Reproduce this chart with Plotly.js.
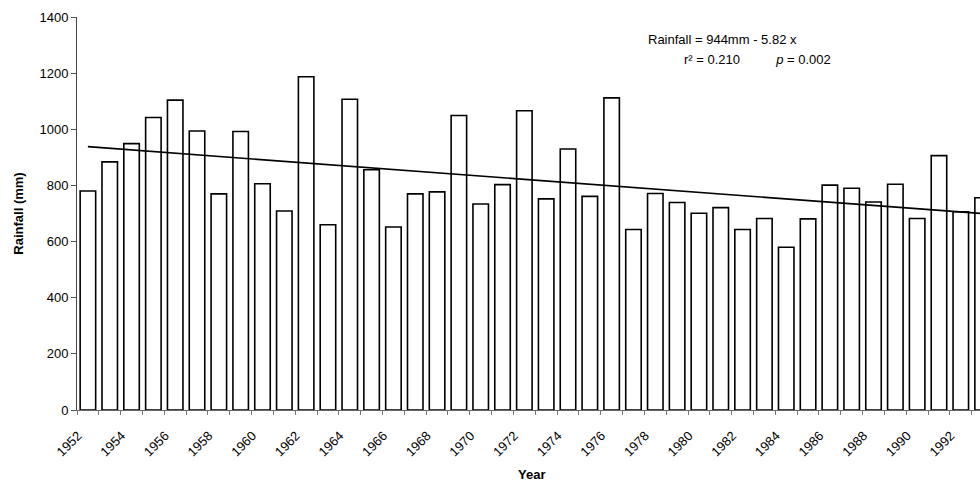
<!DOCTYPE html>
<html>
<head>
<meta charset="utf-8">
<script src="https://cdn.plot.ly/plotly-3.0.1.min.js"></script>
<style>html,body{margin:0;padding:0;background:#fff;}#chart{width:980px;height:483px;}</style>
</head>
<body>
<div id="chart"></div>
<script>
// Data
const years = [1952,1953,1954,1955,1956,1957,1958,1959,1960,1961,1962,1963,1964,1965,1966,1967,1968,1969,1970,1971,1972,1973,1974,1975,1976,1977,1978,1979,1980,1981,1982,1983,1984,1985,1986,1987,1988,1989,1990,1991,1992,1993];
const rainfall = [780,884,949,1042,1104,994,770,992,806,709,1187,660,1107,856,652,770,777,1049,734,803,1066,752,930,761,1112,643,771,739,701,721,643,682,580,681,801,790,741,804,682,906,706,756];
const tickYears = [1952,1954,1956,1958,1960,1962,1964,1966,1968,1970,1972,1974,1976,1978,1980,1982,1984,1986,1988,1990,1992];
const tickLabels = tickYears.map(String);
const boundaryTicks = years.map(y => y - 0.5);
const yTicks = [0,200,400,600,800,1000,1200,1400];
// Regression stated on the chart: Rainfall = 944mm - 5.82 x  (x = year index starting at 1)
const intercept = 944, slope = -5.82;
const trend = years.map((y, i) => intercept + slope * (i + 1));

const FONT = 'Liberation Sans, Arial, sans-serif';

const traces = [
  {
    type: 'bar', x: years, y: rainfall, width: 0.71,
    marker: {color: '#ffffff', line: {color: '#000000', width: 1.6}},
    hoverinfo: 'x+y', showlegend: false
  },
  {
    type: 'scatter', mode: 'lines', x: years, y: trend,
    line: {color: '#000000', width: 1.6}, showlegend: false
  },
  {
    type: 'scatter', x: [1960], y: [0], xaxis: 'x2', mode: 'markers',
    marker: {opacity: 0}, hoverinfo: 'skip', showlegend: false
  }
];

const layout = {
  width: 980, height: 483,
  margin: {l: 77, r: 0, t: 17, b: 73},
  paper_bgcolor: '#ffffff', plot_bgcolor: '#ffffff',
  font: {family: FONT, size: 12, color: '#000'},
  bargap: 0,
  xaxis: {
    type: 'linear', range: [1951.5, 1992.88], fixedrange: true,
    tickmode: 'array', tickvals: tickYears, ticktext: tickLabels,
    tickangle: -45, ticks: '', showgrid: false, zeroline: false,
    ticklabelstandoff: 12, ticklabelshift: -10,
    showline: true, linecolor: '#666', linewidth: 1,
    tickfont: {family: FONT, size: 13, color: '#000'}
  },
  xaxis2: {
    overlaying: 'x', matches: 'x', anchor: 'y', side: 'bottom',
    tickmode: 'array', tickvals: boundaryTicks, showticklabels: false,
    ticks: 'outside', ticklen: 4, tickcolor: '#777', tickwidth: 1,
    showgrid: false, zeroline: false, showline: false
  },
  yaxis: {
    range: [0, 1400], fixedrange: true,
    tickmode: 'array', tickvals: yTicks,
    ticks: 'outside', ticklen: 5, tickcolor: '#555', tickwidth: 1,
    showgrid: false, zeroline: false,
    showline: true, linecolor: '#444', linewidth: 1,
    tickfont: {family: FONT, size: 13, color: '#000'},
    title: {text: '<b>Rainfall (mm)</b>', font: {family: FONT, size: 13, color: '#000'}, standoff: 12}
  },
  annotations: [
    {xref: 'paper', yref: 'paper', x: 0.630, y: 0.944, xanchor: 'left', yanchor: 'middle', showarrow: false,
     text: 'Rainfall = 944mm - 5.82 x', font: {family: FONT, size: 13, color: '#000'}},
    {xref: 'paper', yref: 'paper', x: 0.6705, y: 0.891, xanchor: 'left', yanchor: 'middle', showarrow: false,
     text: 'r² = 0.210          <i>p</i> = 0.002', font: {family: FONT, size: 13, color: '#000'}},
    {xref: 'paper', yref: 'paper', x: 0.503, y: -0.163, xanchor: 'center', yanchor: 'middle', showarrow: false,
     text: '<b>Year</b>', font: {family: FONT, size: 13, color: '#000'}}
  ]
};

Plotly.newPlot('chart', traces, layout, {staticPlot: true, displayModeBar: false});
</script>
</body>
</html>
